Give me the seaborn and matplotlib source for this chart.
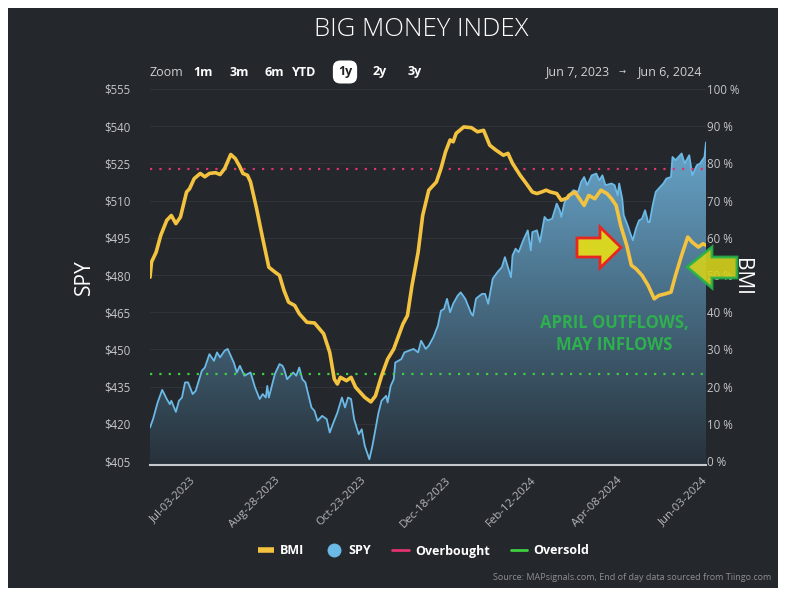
import numpy as np
import pandas as pd
import matplotlib
matplotlib.use("Agg")
import matplotlib.pyplot as plt
import matplotlib.dates as mdates
from matplotlib.patches import Polygon, Rectangle
from matplotlib.lines import Line2D
from matplotlib.colors import LinearSegmentedColormap
import seaborn as sns

# ---------------- data ----------------
bmi_dates = [
    "2023-06-07", "2023-06-08", "2023-06-11", "2023-06-14", "2023-06-18", "2023-06-21",
    "2023-06-24", "2023-06-27", "2023-07-01", "2023-07-03", "2023-07-06", "2023-07-10",
    "2023-07-13", "2023-07-16", "2023-07-20", "2023-07-23", "2023-07-26", "2023-07-30",
    "2023-08-02", "2023-08-05", "2023-08-07", "2023-08-10", "2023-08-12", "2023-08-16",
    "2023-08-20", "2023-08-24", "2023-08-28", "2023-08-31", "2023-09-03", "2023-09-06",
    "2023-09-10", "2023-09-13", "2023-09-18", "2023-09-23", "2023-09-29", "2023-10-03",
    "2023-10-06", "2023-10-08", "2023-10-10", "2023-10-14", "2023-10-17", "2023-10-20",
    "2023-10-26", "2023-10-30", "2023-11-02", "2023-11-06", "2023-11-10", "2023-11-14",
    "2023-11-20", "2023-11-23", "2023-11-26", "2023-11-30", "2023-12-03", "2023-12-07",
    "2023-12-12", "2023-12-15", "2023-12-18", "2023-12-21", "2023-12-23", "2023-12-25",
    "2023-12-30", "2024-01-04", "2024-01-08", "2024-01-12", "2024-01-16", "2024-01-20",
    "2024-01-25", "2024-01-28", "2024-01-31", "2024-02-05", "2024-02-09", "2024-02-13",
    "2024-02-16", "2024-02-19", "2024-02-22", "2024-02-25", "2024-02-29", "2024-03-03",
    "2024-03-07", "2024-03-08", "2024-03-12", "2024-03-15", "2024-03-18", "2024-03-21",
    "2024-03-25", "2024-03-29", "2024-04-02", "2024-04-05", "2024-04-08", "2024-04-11",
    "2024-04-15", "2024-04-18", "2024-04-21", "2024-04-25", "2024-04-29", "2024-05-03",
    "2024-05-06", "2024-05-10", "2024-05-14", "2024-05-17", "2024-05-21", "2024-05-25",
    "2024-05-28", "2024-06-01", "2024-06-04", "2024-06-06",
]
bmi_values = [
    49.4, 53.5, 56.1, 60.6, 64.7, 66.0,
    63.8, 65.6, 72.3, 73.2, 75.9, 77.3,
    76.4, 77.3, 77.5, 77.0, 78.6, 82.4,
    81.3, 79.1, 77.3, 76.8, 75.0, 67.8,
    59.8, 52.1, 50.8, 49.9, 45.8, 42.7,
    41.8, 39.6, 37.3, 37.1, 34.2, 29.2,
    22.0, 20.7, 22.5, 21.6, 22.5, 19.8,
    17.1, 15.9, 17.5, 22.9, 27.4, 30.1,
    36.8, 39.1, 47.2, 56.1, 66.0, 72.8,
    75.0, 78.6, 83.1, 86.3, 85.8, 88.1,
    89.8, 89.6, 88.5, 88.9, 84.9, 83.6,
    82.2, 82.7, 80.0, 76.8, 74.6, 72.3,
    71.9, 72.3, 72.8, 72.3, 71.9, 70.1,
    70.7, 71.4, 72.3, 70.5, 68.7, 71.4,
    70.5, 72.8, 71.9, 70.5, 68.7, 63.3,
    57.9, 52.6, 51.7, 49.9, 47.2, 43.6,
    44.5, 44.9, 45.4, 49.9, 55.3, 60.2,
    58.8, 57.5, 58.4, 58.0,
]

spy_dates = [
    "2023-06-07", "2023-06-09", "2023-06-12", "2023-06-15", "2023-06-18", "2023-06-20",
    "2023-06-21", "2023-06-24", "2023-06-26", "2023-06-28", "2023-06-30", "2023-07-02",
    "2023-07-05", "2023-07-07", "2023-07-11", "2023-07-13", "2023-07-16", "2023-07-19",
    "2023-07-21", "2023-07-23", "2023-07-26", "2023-07-28", "2023-07-29", "2023-08-01",
    "2023-08-03", "2023-08-05", "2023-08-08", "2023-08-12", "2023-08-15", "2023-08-18",
    "2023-08-20", "2023-08-22", "2023-08-23", "2023-08-24", "2023-08-28", "2023-08-31",
    "2023-09-02", "2023-09-03", "2023-09-05", "2023-09-09", "2023-09-11", "2023-09-13",
    "2023-09-15", "2023-09-17", "2023-09-21", "2023-09-23", "2023-09-25", "2023-09-28",
    "2023-10-01", "2023-10-03", "2023-10-05", "2023-10-08", "2023-10-11", "2023-10-13",
    "2023-10-15", "2023-10-17", "2023-10-19", "2023-10-22", "2023-10-24", "2023-10-26",
    "2023-10-29", "2023-10-31", "2023-11-04", "2023-11-06", "2023-11-09", "2023-11-10",
    "2023-11-12", "2023-11-14", "2023-11-15", "2023-11-19", "2023-11-21", "2023-11-24",
    "2023-11-27", "2023-11-30", "2023-12-02", "2023-12-05", "2023-12-07", "2023-12-10",
    "2023-12-13", "2023-12-15", "2023-12-17", "2023-12-19", "2023-12-21", "2023-12-23",
    "2023-12-26", "2023-12-28", "2023-12-31", "2024-01-04", "2024-01-05", "2024-01-07",
    "2024-01-08", "2024-01-11", "2024-01-13", "2024-01-15", "2024-01-18", "2024-01-21",
    "2024-01-24", "2024-01-26", "2024-01-28", "2024-01-30", "2024-01-31", "2024-02-02",
    "2024-02-04", "2024-02-07", "2024-02-10", "2024-02-12", "2024-02-13", "2024-02-16",
    "2024-02-18", "2024-02-21", "2024-02-23", "2024-02-26", "2024-02-29", "2024-03-02",
    "2024-03-03", "2024-03-05", "2024-03-07", "2024-03-11", "2024-03-14", "2024-03-16",
    "2024-03-18", "2024-03-20", "2024-03-23", "2024-03-26", "2024-03-28", "2024-03-30",
    "2024-04-01", "2024-04-05", "2024-04-07", "2024-04-09", "2024-04-10", "2024-04-12",
    "2024-04-13", "2024-04-16", "2024-04-17", "2024-04-19", "2024-04-21", "2024-04-23",
    "2024-04-25", "2024-04-27", "2024-04-29", "2024-04-30", "2024-05-02", "2024-05-04",
    "2024-05-06", "2024-05-09", "2024-05-11", "2024-05-14", "2024-05-15", "2024-05-17",
    "2024-05-21", "2024-05-23", "2024-05-26", "2024-05-28", "2024-05-31", "2024-06-02",
    "2024-06-05", "2024-06-06",
]
spy_values = [
    418.5, 421.9, 428.6, 433.7, 430.0, 427.9,
    429.3, 424.8, 429.3, 430.6, 436.7, 436.7,
    432.0, 433.3, 441.4, 442.7, 448.1, 445.4,
    448.8, 446.8, 449.5, 450.2, 448.8, 444.7,
    440.7, 443.4, 439.4, 440.7, 434.6, 430.0,
    432.0, 430.6, 435.3, 430.6, 440.1, 444.1,
    443.4, 442.1, 438.0, 440.7, 439.4, 442.7,
    438.0, 436.7, 426.6, 425.2, 421.2, 423.2,
    421.9, 416.5, 419.8, 424.5, 430.6, 426.6,
    430.6, 430.0, 421.9, 415.8, 417.8, 411.1,
    405.7, 411.1, 424.5, 429.3, 431.3, 428.6,
    435.3, 438.0, 444.7, 446.1, 448.8, 449.5,
    450.2, 448.8, 453.5, 450.2, 451.5, 454.9,
    459.6, 465.6, 466.3, 470.4, 465.0, 468.4,
    471.7, 473.0, 470.4, 464.3, 463.6, 470.4,
    471.0, 472.4, 472.4, 468.4, 478.5, 481.1,
    483.2, 487.2, 483.2, 479.1, 487.9, 490.6,
    489.2, 494.0, 498.0, 489.9, 497.3, 498.0,
    493.3, 503.4, 502.0, 502.7, 508.8, 506.1,
    503.4, 509.0, 511.5, 514.2, 513.5, 517.5,
    519.5, 516.2, 520.2, 520.9, 518.2, 520.2,
    516.2, 516.9, 516.2, 512.1, 516.9, 510.8,
    504.1, 499.3, 497.3, 494.0, 498.7, 502.0,
    502.7, 506.1, 501.3, 501.3, 508.1, 513.5,
    514.9, 516.9, 518.9, 519.5, 527.6, 526.3,
    529.0, 525.0, 528.3, 520.2, 524.3, 524.9,
    527.6, 533.5,
]

overbought_level = 78.5
oversold_level = 23.5
x_tick_dates = ["2023-07-03", "2023-08-28", "2023-10-23", "2023-12-18",
                "2024-02-12", "2024-04-08", "2024-06-03"]
spy_ticks = [405, 420, 435, 450, 465, 480, 495, 510, 525, 540, 555]
bmi_ticks = [0, 10, 20, 30, 40, 50, 60, 70, 80, 90, 100]
legend_labels = ["BMI", "SPY", "Overbought", "Oversold"]
zoom_buttons = ["1m", "3m", "6m", "YTD", "1y", "2y", "3y"]
range_from, range_to = "Jun 7, 2023", "Jun 6, 2024"
title = "BIG MONEY INDEX"
note_lines = ["APRIL OUTFLOWS,", "MAY INFLOWS"]
source = "Source: MAPsignals.com, End of day data sourced from Tiingo.com"

# ---------------- style ----------------
sns.set_theme(style="dark")
plt.rcParams["font.family"] = ["Open Sans", "DejaVu Sans"]

BG = "#24272c"
GRID = "#30343a"
BMI_C = "#f3c23f"
SPY_C = "#6bb9e6"
OB_C = "#e0336f"
OS_C = "#3fcf3f"
TICK_C = "#c4c6c8"

W, H = 786, 593


def fx(x):
    return x / W


def fy(y):
    return 1 - y / H


fig = plt.figure(figsize=(W / 100, H / 100), dpi=100, facecolor="white")
fig.add_artist(Rectangle((fx(8), fy(588)), (778 - 8) / W, (588 - 8) / H,
                         transform=fig.transFigure, facecolor=BG,
                         edgecolor="none", zorder=0))

ax = fig.add_axes([fx(150), fy(465), 556 / W, (465 - 89) / H])
ax.set_facecolor(BG)

spy_df = pd.DataFrame({"date": pd.to_datetime(spy_dates), "spy": spy_values})
bmi_df = pd.DataFrame({"date": pd.to_datetime(bmi_dates), "bmi": bmi_values})

y_lo, y_hi = 403.4, 555
x_lo, x_hi = pd.Timestamp("2023-06-07"), pd.Timestamp("2024-06-06")

sns.lineplot(data=spy_df, x="date", y="spy", ax=ax, color=SPY_C, lw=1.3,
             zorder=3, legend=False)

# gradient fill below SPY
top_c = "#72b8e2"
bot_c = "#27313a"
cmap = LinearSegmentedColormap.from_list("spyfill", [bot_c, top_c])
grad = np.linspace(1, 0, 256).reshape(-1, 1)
im = ax.imshow(grad, extent=[mdates.date2num(x_lo), mdates.date2num(x_hi), y_lo, y_hi],
               aspect="auto", cmap=cmap, origin="upper", zorder=2, interpolation="bilinear")
poly = ax.fill_between(spy_df["date"], spy_df["spy"], y_lo, facecolor="none",
                       edgecolor="none")
im.set_clip_path(poly.get_paths()[0], transform=ax.transData)

ax.set_xlim(x_lo, x_hi)
ax.set_ylim(y_lo, y_hi)
ax.set_yticks(spy_ticks)
ax.set_yticklabels([f"${v}" for v in spy_ticks])
ax.set_axisbelow(True)
ax.grid(axis="y", color=GRID, lw=0.8)
ax.grid(axis="x", visible=False)
ax.tick_params(axis="y", length=0, pad=14, labelsize=8.3, labelcolor=TICK_C)

ax.set_xticks(pd.to_datetime(x_tick_dates))
ax.xaxis.set_major_formatter(mdates.DateFormatter("%b-%d-%Y"))
ax.tick_params(axis="x", length=6, width=1, color="#aeb2b6", direction="out",
               labelsize=8.2, labelcolor="#b5b7ba", pad=1)
for lab in ax.get_xticklabels():
    lab.set_rotation(45)
    lab.set_ha("right")
    lab.set_va("top")
    lab.set_rotation_mode("anchor")
for s in ["top", "left", "right"]:
    ax.spines[s].set_visible(False)
ax.spines["bottom"].set_color("#c5c9ce")
ax.spines["bottom"].set_linewidth(1.5)
ax.set_xlabel("")
ax.set_ylabel("SPY", color="white", fontsize=15)
ax.yaxis.set_label_coords(-0.099, 0.5)

# BMI on right axis
ax2 = ax.twinx()
sns.lineplot(data=bmi_df, x="date", y="bmi", ax=ax2, color=BMI_C, lw=2.6,
             zorder=4, legend=False)
ax2.axhline(overbought_level, color=OB_C, lw=1.6, ls=(0, (1, 3.2)), zorder=3)
ax2.axhline(oversold_level, color=OS_C, lw=1.6, ls=(0, (1, 3.2)), zorder=3)
ax2.set_ylim(-1.07, 100)
ax2.set_xlim(x_lo, x_hi)
ax2.set_yticks(bmi_ticks)
ax2.set_yticklabels([f"{v} %" for v in bmi_ticks])
ax2.tick_params(axis="y", length=0, pad=1, labelsize=8.3, labelcolor=TICK_C)
ax2.grid(False)
for s in ax2.spines.values():
    s.set_visible(False)
ax2.set_xlabel("")
ax2.set_ylabel("BMI", color="white", fontsize=15, rotation=270)
ax2.yaxis.set_label_coords(1.083, 0.5)

# title & range selector
fig.text(fx(421.5), fy(30), title, ha="center", va="center", color="white",
         fontsize=18.5, fontweight="light")
fig.text(fx(149), fy(72), "Zoom", ha="left", va="center", color="#d0d0d0", fontsize=9)
btn_x = [203.5, 239, 274, 304.5, 345, 380, 415]
for lbl, bx in zip(zoom_buttons, btn_x):
    if lbl == "1y":
        fig.text(fx(bx), fy(72), lbl, ha="center", va="center", color="#222222",
                 fontsize=9, fontweight="bold",
                 bbox=dict(boxstyle="round,pad=0.4,rounding_size=0.6",
                           fc="white", ec="none"))
    else:
        fig.text(fx(bx), fy(72), lbl, ha="center", va="center", color="white",
                 fontsize=9, fontweight="bold")
fig.text(fx(577), fy(72), range_from, ha="center", va="center", color="#d0d0d0", fontsize=9)
fig.text(fx(622), fy(72), "\u2192", ha="center", va="center", color="#d0d0d0", fontsize=6)
fig.text(fx(669), fy(72), range_to, ha="center", va="center", color="#d0d0d0", fontsize=9)

# legend
handles = [
    Line2D([], [], color=BMI_C, lw=4, solid_capstyle="butt"),
    Line2D([], [], color=SPY_C, lw=0, marker="o", markersize=9),
    Line2D([], [], color=OB_C, lw=2),
    Line2D([], [], color=OS_C, lw=2),
]
leg = fig.legend(handles, legend_labels, loc="center",
                 bbox_to_anchor=(fx(423.5), fy(551)), ncol=4, frameon=False,
                 handlelength=1.3, handletextpad=0.5, columnspacing=1.7,
                 prop=dict(weight="bold", size=9))
for t in leg.get_texts():
    t.set_color("white")

fig.text(fx(771), fy(578), source, ha="right", va="center", color="#8c8e91", fontsize=6.5)

# annotations
red_arrow = [(577, 238), (600, 238), (600, 227), (621, 247.5), (600, 268),
             (600, 257), (577, 257)]
green_arrow = [(687, 267), (712, 247), (712, 257), (737, 257), (737, 278),
               (712, 278), (712, 288)]
fig.add_artist(Polygon([(fx(a), fy(b)) for a, b in red_arrow], closed=True,
                       transform=fig.transFigure, facecolor="#d9d622",
                       edgecolor="#e8261f", lw=2, zorder=10))
fig.add_artist(Polygon([(fx(a), fy(b)) for a, b in green_arrow], closed=True,
                       transform=fig.transFigure, facecolor="#d4d21c",
                       edgecolor="#25b14a", lw=2, alpha=0.9, zorder=10))
fig.text(fx(614), fy(323), note_lines[0], ha="center", va="center",
         color="#2db04d", fontsize=12, fontweight="bold", zorder=11)
fig.text(fx(614), fy(345), note_lines[1], ha="center", va="center",
         color="#2db04d", fontsize=12, fontweight="bold", zorder=11)

fig.savefig("out.png", dpi=100, facecolor="white")
